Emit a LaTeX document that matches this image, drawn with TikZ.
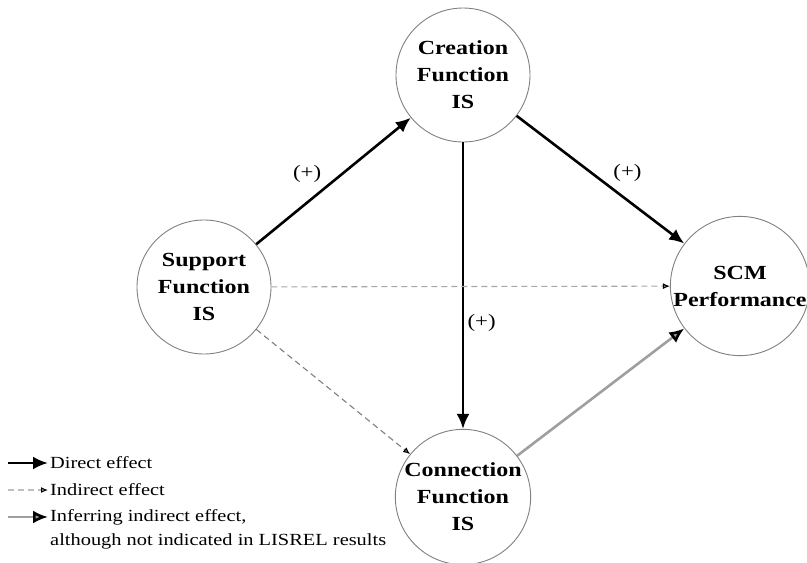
\documentclass[tikz,border=0pt]{standalone}
\usepackage{fontspec}
\setmainfont{Liberation Serif}[FakeStretch=1.2]
\usetikzlibrary{arrows.meta}

\begin{document}
\begin{tikzpicture}[x=1pt, y=-1pt,
    main/.style = {draw=gray, circle, line width=0.9pt, minimum size=134pt, inner sep=0pt, align=center, font=\bfseries\fontsize{20}{27}\selectfont},
    direct/.style = {-{Latex[length=15pt,width=13pt]}, line width=2.6pt},
    indirect/.style = {-{Latex[length=7pt,width=6pt,color=black]}, gray, line width=1.1pt, dash pattern=on 6pt off 4pt},
    inferred/.style = {-{Latex[length=15pt,width=13pt,color=black]}, gray!75, line width=2.6pt},
    plus/.style = {font=\fontsize{19}{20}\selectfont},
    legend/.style = {anchor=west, align=left, inner sep=0pt, font=\fontsize{17}{24}\selectfont}]
    \useasboundingbox (0,0) rectangle (807,563);

    \node[main] (C) at (463,75) {Creation\\Function\\IS};
    \node[main] (S) at (204,287) {Support\\Function\\IS};
    \node[main] (P) at (740,286) {SCM\\Performance};
    \node[main] (N) at (463,497) {Connection\\Function\\IS};

    \path[direct] (S) edge node[plus, above left, pos=0.45] {(+)} (C);
    \path[direct] (C) edge node[plus, above right, pos=0.55] {(+)} (P);
    \path[direct] (C) edge node[plus, right, pos=0.63] {(+)} (N);

    \path[indirect, gray!70] (S) edge (P);
    \path[indirect] (S) edge (N);
    \path[inferred] (N) edge (P);

    % legend
    \coordinate (d0) at (8,463);   \coordinate (d1) at (48,463);
    \coordinate (i0) at (8,490);   \coordinate (i1) at (48,490);
    \coordinate (f0) at (8,517);   \coordinate (f1) at (48,517);
    \node[legend] (dtxt) at (50,463) {Direct effect};
    \node[legend] (itxt) at (50,490) {Indirect effect};
    \node[legend] (ftxt) at (50,529) {Inferring indirect effect,\\although not indicated in LISREL results};
    \path[direct] (d0) edge (d1);
    \path[indirect, gray!50] (i0) edge (i1);
    \path[inferred] (f0) edge (f1);
\end{tikzpicture}
\end{document}
